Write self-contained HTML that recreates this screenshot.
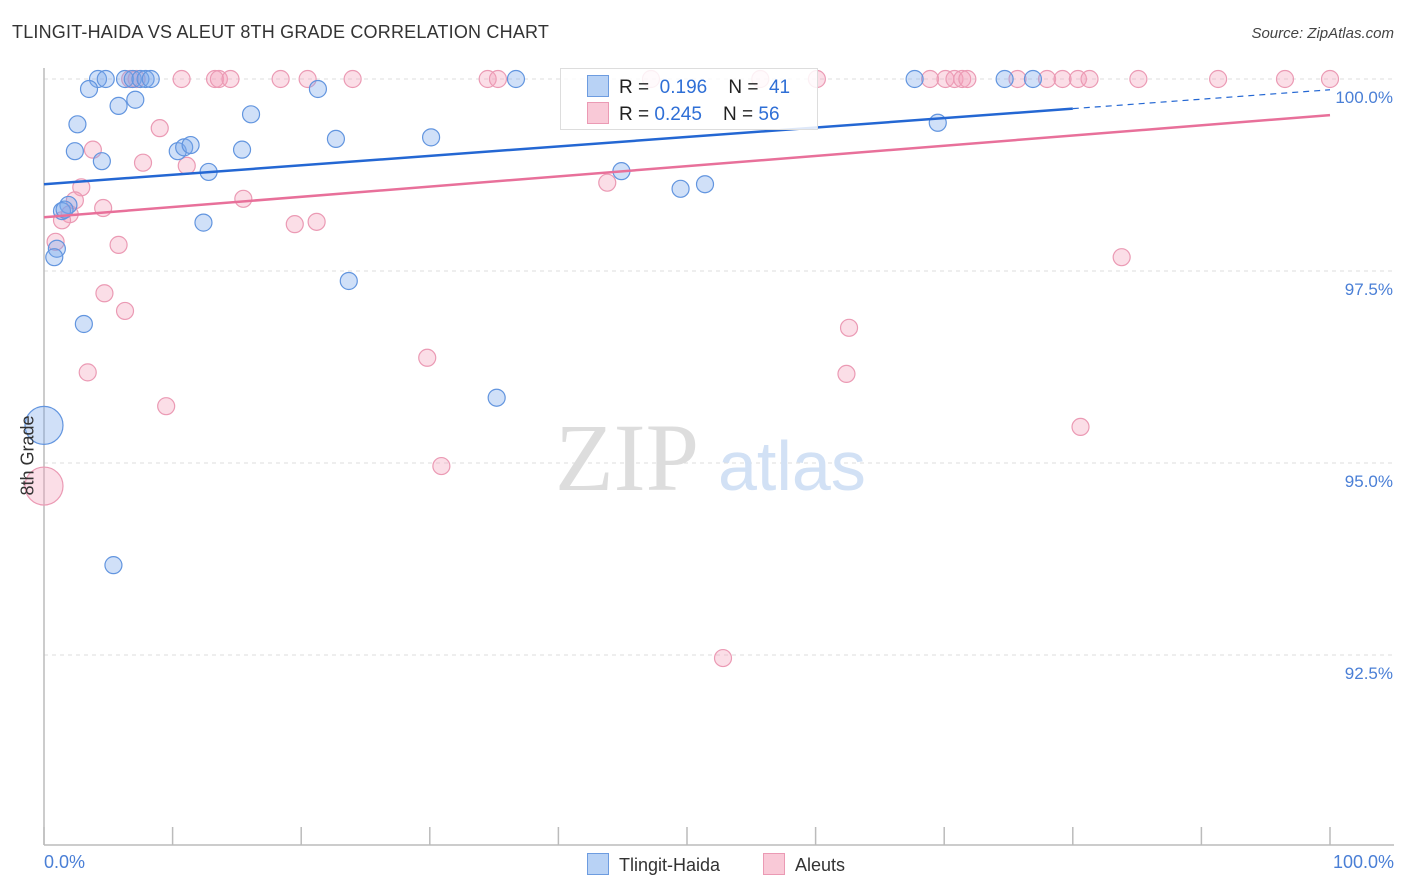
<!DOCTYPE html>
<html><head><meta charset="utf-8"><style>
body{margin:0;background:#fff;font-family:"Liberation Sans",sans-serif}
#wrap{position:relative;width:1406px;height:892px}
.t{position:absolute;white-space:nowrap}
</style></head><body>
<div id="wrap">
<div class="t" style="left:12px;top:22px;font-size:18px;color:#333;letter-spacing:0.2px">TLINGIT-HAIDA VS ALEUT 8TH GRADE CORRELATION CHART</div>
<div class="t" style="right:12px;top:25px;font-size:15px;color:#444;font-style:italic">Source: ZipAtlas.com</div>
<svg id="svg" width="1406" height="892" style="position:absolute;left:0;top:0"></svg>
</div>
<script>
const blueX=[4.2,4.8,6.3,6.9,7.5,7.9,8.3,3.5,7.1,5.8,16.1,2.6,22.7,30.1,2.4,10.4,10.9,11.4,15.4,4.5,12.8,1.9,1.4,1.0,0.8,12.4,3.1,23.7,35.2,5.4,44.9,49.5,51.4,36.7,67.7,74.7,76.9,69.5,21.3,0,1.6];
const blueY=[100,100,100,100,100,100,100,99.87,99.73,99.65,99.54,99.41,99.22,99.24,99.06,99.06,99.11,99.14,99.08,98.93,98.79,98.36,98.28,97.79,97.68,98.13,96.81,97.37,95.85,93.67,98.80,98.57,98.63,100,100,100,100,99.43,99.87,95.49,98.30];
const pinkX=[6.7,7.2,10.7,13.3,13.6,14.5,18.4,20.5,24.0,34.5,35.3,47.2,55.7,60.1,68.9,70.1,70.8,71.4,71.8,75.7,78.0,79.2,80.4,81.3,85.1,91.3,96.5,100,9.0,3.8,7.7,11.1,2.9,15.5,4.6,2.0,1.4,19.5,21.2,0.9,5.8,4.7,6.3,3.4,9.5,29.8,30.9,43.8,62.6,62.4,83.8,80.6,52.8,0,2.4];
const pinkY=[100,100,100,100,100,100,100,100,100,100,100,100,100,100,100,100,100,100,100,100,100,100,100,100,100,100,100,100,99.36,99.08,98.91,98.87,98.59,98.44,98.32,98.24,98.16,98.11,98.14,97.88,97.84,97.21,96.98,96.18,95.74,96.37,94.96,98.65,96.76,96.16,97.68,95.47,92.46,94.70,98.42];
const blueBig=[39], pinkBig=[53];
const yTicks=[100,97.5,95,92.5];
const yTickLabels=["100.0%","97.5%","95.0%","92.5%"];
const blueTrend=[98.63,99.86], pinkTrend=[98.20,99.53];
const NS="http://www.w3.org/2000/svg";
const svg=document.getElementById('svg');
const sx=v=>44+v*12.86, sy=v=>79+(100-v)*76.8;
function mk(tag,at){const e=document.createElementNS(NS,tag);for(const k in at)e.setAttribute(k,at[k]);svg.appendChild(e);return e;}
yTicks.forEach((t,i)=>{
 const g=mk('line',{x1:44,x2:1394,y1:sy(t),y2:sy(t),stroke:'#ddd','stroke-dasharray':'4,4'});
 
 
 const tx=mk('text',{x:1393,y:sy(t)+24,'text-anchor':'end','font-size':17,fill:'#4a7fd6','font-family':'Liberation Sans, sans-serif'});
 tx.textContent=yTickLabels[i];
 
 
});
// watermark
const w1=mk('text',{x:555,y:490,'font-size':96,fill:'#ddd','font-family':'Liberation Serif, serif'});w1.textContent='ZIP';


const w2=mk('text',{x:718,y:490,'font-size':70,fill:'#d2e1f5','font-family':'Liberation Sans, sans-serif'});w2.textContent='atlas';


mk('line',{x1:44,x2:44,y1:68,y2:845,stroke:'#bbb','stroke-width':1.5});
mk('line',{x1:44,x2:1394,y1:845,y2:845,stroke:'#bbb','stroke-width':1.5});
for(let i=0;i<=10;i++){mk('line',{x1:sx(i*10),x2:sx(i*10),y1:827,y2:845,stroke:'#bbb','stroke-width':1.5});}
function dots(X,Y,big,fill,stroke,name){X.forEach((x,i)=>{
 const c=mk('circle',{cx:sx(x),cy:sy(Y[i]),r:big.includes(i)?19:8.5,fill:fill,stroke:stroke,'stroke-width':1.2});
 
 
});}
dots(pinkX,pinkY,pinkBig,'rgba(244,160,185,0.35)','#eb9ab4','aleut-point');
dots(blueX,blueY,blueBig,'rgba(120,165,235,0.35)','#6295df','tlingit-point');
const bl=mk('line',{x1:sx(0),y1:sy(blueTrend[0]),x2:sx(80),y2:sy(blueTrend[0]+(blueTrend[1]-blueTrend[0])*0.8),stroke:'#2467d3','stroke-width':2.5});


mk('line',{x1:sx(80),y1:sy(blueTrend[0]+(blueTrend[1]-blueTrend[0])*0.8),x2:sx(100),y2:sy(blueTrend[1]),stroke:'#2467d3','stroke-width':1.2,'stroke-dasharray':'6,5'});
const pl=mk('line',{x1:sx(0),y1:sy(pinkTrend[0]),x2:sx(100),y2:sy(pinkTrend[1]),stroke:'#e8709a','stroke-width':2.5});


</script>
<div class="t" style="left:560px;top:68px;width:256px;height:60px;border:1px solid #ddd;background:rgba(255,255,255,0.85)"></div>
<div class="t" style="left:587px;top:75px;font-size:19px;color:#222"><span style="display:inline-block;width:20px;height:20px;background:#b8d2f5;border:1px solid #6d9ce0;vertical-align:-4px;margin-right:10px"></span>R = &nbsp;<span style="color:#2f6fd6">0.196</span>&nbsp;&nbsp;&nbsp; N = &nbsp;<span style="color:#2f6fd6">41</span></div>
<div class="t" style="left:587px;top:102px;font-size:19px;color:#222"><span style="display:inline-block;width:20px;height:20px;background:#f9c9d7;border:1px solid #eb9ab4;vertical-align:-4px;margin-right:10px"></span>R = <span style="color:#2f6fd6">0.245</span>&nbsp;&nbsp;&nbsp; N = <span style="color:#2f6fd6">56</span></div>
<div class="t" style="left:-12px;top:445px;font-size:18px;color:#333;transform:rotate(-90deg)">8th Grade</div>
<div class="t" style="left:44px;top:852px;font-size:18px;color:#4a7fd6">0.0%</div>
<div class="t" style="right:12px;top:852px;font-size:18px;color:#4a7fd6">100.0%</div>
<div class="t" style="left:587px;top:853px;font-size:18px;color:#333"><span style="display:inline-block;width:20px;height:20px;background:#b8d2f5;border:1px solid #6d9ce0;vertical-align:-4px;margin-right:10px"></span>Tlingit-Haida</div>
<div class="t" style="left:763px;top:853px;font-size:18px;color:#333"><span style="display:inline-block;width:20px;height:20px;background:#f9c9d7;border:1px solid #eb9ab4;vertical-align:-4px;margin-right:10px"></span>Aleuts</div>
</body></html>
